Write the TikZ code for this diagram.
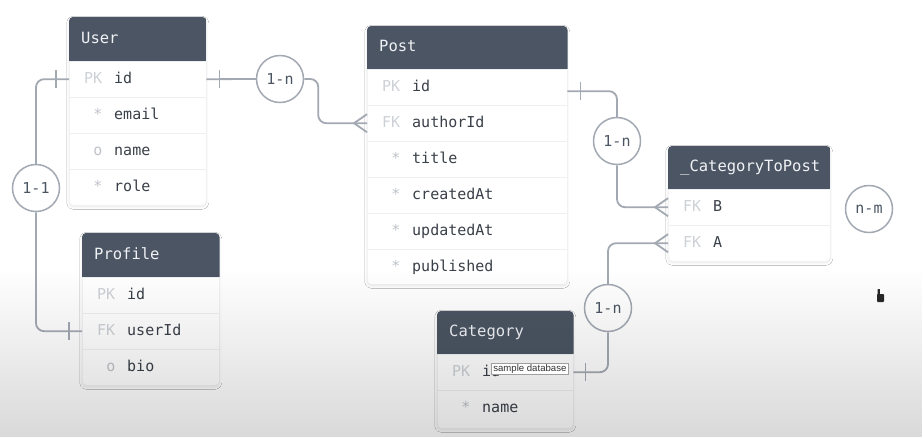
\documentclass[tikz,border=0pt]{standalone}
\usepackage{fontspec}
\setmainfont{DejaVu Sans}
\setmonofont{DejaVu Sans Mono}
\newfontfamily\tipfont{Liberation Sans}
\usetikzlibrary{fadings,shadows.blur}
\definecolor{hdrc}{HTML}{4B5563}
\definecolor{hdrtxt}{HTML}{F0F2F5}
\definecolor{linec}{HTML}{A3A9B3}
\definecolor{sepc}{HTML}{EEEFF1}
\definecolor{keyc}{HTML}{CDD1D6}
\definecolor{markc}{HTML}{BFC3C9}
\definecolor{txtc}{HTML}{3A4049}
\definecolor{circtxt}{HTML}{4B5563}
\tikzset{
  tablebody/.style={draw=sepc, line width=0.5pt, fill=white, rounded corners=4pt, anchor=north west, inner sep=0pt,
    blur shadow={shadow blur steps=6, shadow xshift=0pt, shadow yshift=-1.5pt, shadow opacity=9, shadow blur radius=2.5pt}},
  rowbox/.style={anchor=north west, inner sep=0pt, minimum height=36pt},
  fieldtxt/.style={font=\ttfamily\fontsize{15}{15}\selectfont, text=txtc, anchor=west, inner sep=0pt, text height=11pt, text depth=3pt},
  keytxt/.style={font=\ttfamily\fontsize{15}{15}\selectfont, text=keyc, anchor=west, inner sep=0pt, text height=11pt, text depth=3pt},
  marktxt/.style={font=\ttfamily\fontsize{15}{15}\selectfont, text=markc, inner sep=0pt, text height=11pt, text depth=3pt},
  titletxt/.style={font=\ttfamily\fontsize{15.5}{15.5}\selectfont, text=hdrtxt, anchor=west, inner sep=0pt, text height=11pt, text depth=3pt},
  conn/.style={draw=linec, line width=1.8pt, rounded corners=8pt},
  relcirc/.style={circle, draw=linec, line width=1.5pt, fill=white, minimum size=47pt, inner sep=0pt,
    font=\ttfamily\fontsize{15}{15}\selectfont, text=circtxt},
}
\newcommand{\erhead}[3]{%
  \begin{scope}
    \clip[rounded corners=4pt] (#1.north west) rectangle (#1.south east);
    \fill[hdrc] (#1.north west) rectangle ([yshift=-#2pt]#1.north east);
  \end{scope}
  \node[titletxt] (#1-title) at ([xshift=12pt,yshift={-#2pt/2}]#1.north west) {#3};
}
\newcommand{\errowbox}[4]{%
  \node[rowbox, minimum width=#4pt] (#1) at (#2,#3) {};
  \draw[sepc, line width=0.8pt] (#1.north west) -- (#1.north east);
}
\newcommand{\erkey}[6]{\errowbox{#1}{#2}{#3}{#4}%
  \node[keytxt] at ([xshift=15pt]#1.west) {#5};
  \node[fieldtxt] (#1-t) at ([xshift=45pt]#1.west) {#6};}
\newcommand{\erattr}[6]{\errowbox{#1}{#2}{#3}{#4}%
  \node[marktxt] at ([xshift=29pt]#1.west) {#5};
  \node[fieldtxt] (#1-t) at ([xshift=45pt]#1.west) {#6};}
\newcommand{\crossbar}[2]{\draw[linec, line width=1.8pt] ([xshift=#2pt, yshift=9pt]#1) -- ([xshift=#2pt, yshift=-9pt]#1);}
\newcommand{\crowfoot}[1]{\draw[linec, line width=1.8pt] ([yshift=9pt]#1) -- ([xshift=-13pt]#1) -- ([yshift=-9pt]#1);}
\begin{document}
\begin{tikzpicture}[x=1pt, y=-1pt]
\useasboundingbox (0,0) rectangle (923,437);
\fill[white] (0,0) rectangle (923,437);

% ---------- User ----------
\node[tablebody, minimum width=137pt, minimum height=188pt] (user) at (69,17) {};
\erkey{user-id}{69}{61}{137}{PK}{id}
\erattr{user-email}{69}{97}{137}{*}{email}
\erattr{user-name}{69}{133}{137}{o}{name}
\erattr{user-role}{69}{169}{137}{*}{role}
\erhead{user}{44}{User}

% ---------- Post ----------
\node[tablebody, minimum width=200pt, minimum height=258pt] (post) at (367,26) {};
\erkey{post-id}{367}{69}{200}{PK}{id}
\erkey{post-authorId}{367}{105}{200}{FK}{authorId}
\erattr{post-title}{367}{141}{200}{*}{title}
\erattr{post-createdAt}{367}{177}{200}{*}{createdAt}
\erattr{post-updatedAt}{367}{213}{200}{*}{updatedAt}
\erattr{post-published}{367}{249}{200}{*}{published}
\erhead{post}{43}{Post}

% ---------- _CategoryToPost ----------
\node[tablebody, minimum width=162pt, minimum height=115pt] (ctp) at (668,146) {};
\erkey{ctp-B}{668}{189}{162}{FK}{B}
\erkey{ctp-A}{668}{225}{162}{FK}{A}
\erhead{ctp}{43}{\_CategoryToPost}

% ---------- Profile ----------
\node[tablebody, minimum width=137pt, minimum height=152pt] (profile) at (82,233) {};
\erkey{profile-id}{82}{277}{137}{PK}{id}
\erkey{profile-userId}{82}{313}{137}{FK}{userId}
\erattr{profile-bio}{82}{349}{137}{o}{bio}
\erhead{profile}{44}{Profile}

% ---------- Category ----------
\node[tablebody, minimum width=136pt, minimum height=117pt] (cat) at (437,311) {};
\erkey{cat-id}{437}{354}{136}{PK}{id}
\erattr{cat-name}{437}{390}{136}{*}{name}
\erhead{cat}{43}{Category}

% ---------- relation circles ----------
\node[relcirc] (r-userpost) at (280,79) {1-n};
\node[relcirc] (r-userprofile) at (36,188) {1-1};
\node[relcirc] (r-postctp) at (617,141) {1-n};
\node[relcirc] (r-catctp) at (608,308) {1-n};
\node[relcirc] (r-nm) at (869,209) {n-m};

% ---------- connectors ----------
% User -> Post
\draw[conn] (user-id.east) -- (r-userpost.west);
\crossbar{user-id.east}{13}
\draw[conn] (r-userpost.east) -- ++(14,0) |- (post-authorId.west);
\crowfoot{post-authorId.west}

% User -> Profile
\draw[conn] (user-id.west) -| (r-userprofile.north);
\crossbar{user-id.west}{-13}
\draw[conn] (r-userprofile.south) |- (profile-userId.west);
\crossbar{profile-userId.west}{-13}

% Post -> _CategoryToPost
\coordinate (pid) at ([yshift=-4pt]post-id.east);
\draw[conn] (pid) -| (r-postctp.north);
\crossbar{pid}{13}
\draw[conn] (r-postctp.south) |- (ctp-B.west);
\crowfoot{ctp-B.west}

% Category -> _CategoryToPost
\draw[conn] (cat-id.east) -| (r-catctp.south);
\crossbar{cat-id.east}{12}
\draw[conn] (r-catctp.north) |- (ctp-A.west);
\crowfoot{ctp-A.west}

% ---------- bottom shading ----------
\fill[black, opacity=0.15, path fading=north] (0,268) rectangle (923,437);

% ---------- tooltip ----------
\node[draw=gray!75, line width=0.6pt, fill=white, font=\tipfont\fontsize{9.6}{9.6}\selectfont, text=black!80,
  inner xsep=2pt, inner ysep=1pt, text height=7pt, text depth=2pt, anchor=west] (tip) at (491,368.5) {sample database};

% ---------- cursor ----------
\fill[black!85, rounded corners=0.8pt] (877,294) rectangle (884,302);
\fill[black!85, rounded corners=0.5pt] (877.5,289) rectangle (879.8,295);
\end{tikzpicture}
\end{document}
